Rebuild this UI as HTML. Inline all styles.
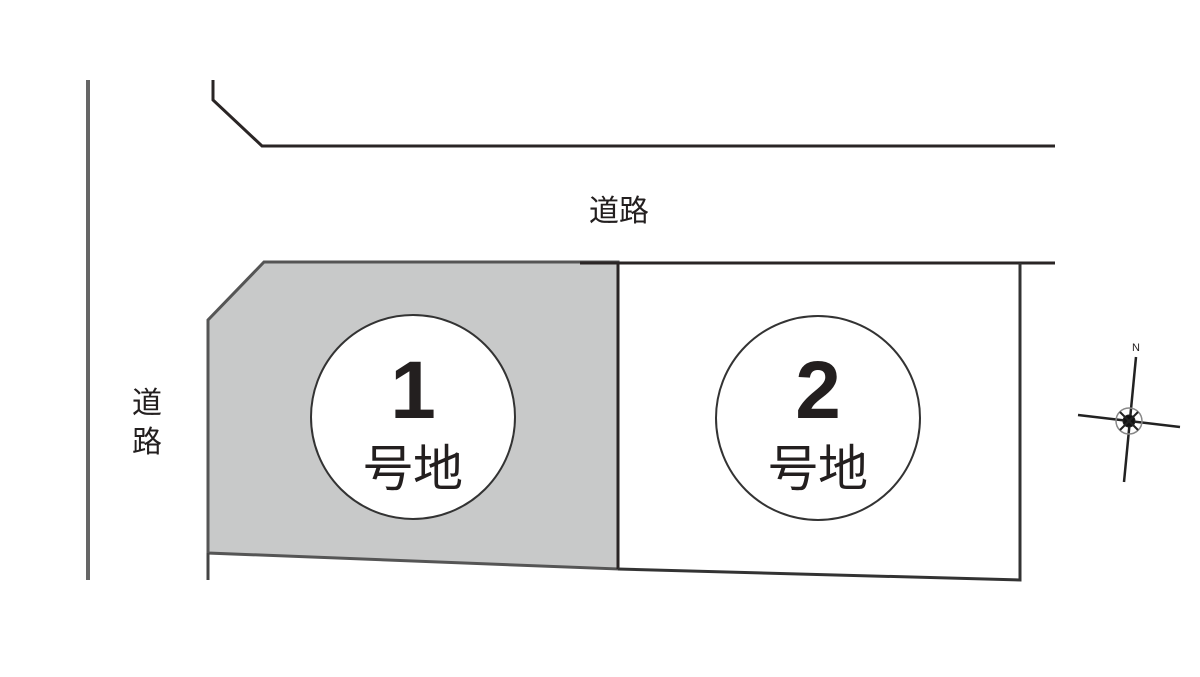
<!DOCTYPE html>
<html><head><meta charset="utf-8"><style>html,body{margin:0;padding:0;background:#fff;}</style></head>
<body>
<svg width="1200" height="677" viewBox="0 0 1200 677" xmlns="http://www.w3.org/2000/svg" style="display:block">
<g fill="none" stroke="#2a2525" stroke-width="3">
<line x1="88" y1="80" x2="88" y2="580" stroke="#666" stroke-width="4"/>
<polyline points="213,80 213,100 262,146 1055,146"/>
<polygon points="264,262 618,262 618,569 208,553 208,320" fill="#c8c9c9" stroke="#555"/>
<line x1="208" y1="553" x2="208" y2="580" stroke="#444"/>
<line x1="580" y1="263" x2="1055" y2="263"/>
<line x1="618" y1="262" x2="618" y2="569"/>
<polyline points="1020,263 1020,580 618,569" stroke="#333"/>
</g>
<g fill="#fff" stroke="#333" stroke-width="2">
<circle cx="413" cy="417" r="102"/>
<circle cx="818" cy="418" r="102"/>
</g>
<g font-family="Liberation Sans, Noto Sans CJK JP, sans-serif" fill="#231f1f" text-anchor="middle">
<text x="413" y="418" font-size="82" font-weight="bold">1</text>
<text x="413" y="486" font-size="50">号地</text>
<text x="818" y="418" font-size="82" font-weight="bold">2</text>
<text x="818" y="486" font-size="50">号地</text>
<text x="619" y="221" font-size="30">道路</text>
<text x="147" y="413" font-size="30">道</text>
<text x="147" y="452" font-size="30">路</text>
<text x="1136" y="351" font-size="11">N</text>
</g>
<g stroke="#222">
<line x1="1136" y1="357" x2="1124" y2="482" stroke-width="2.5"/>
<line x1="1078" y1="415" x2="1180" y2="427" stroke-width="2.5"/>
<circle cx="1129" cy="421" r="13" fill="none" stroke="#888" stroke-width="1.5"/>
<circle cx="1129" cy="421" r="6" fill="#111"/>
<line x1="1120" y1="412" x2="1138" y2="430" stroke-width="2"/>
<line x1="1138" y1="412" x2="1120" y2="430" stroke-width="2"/>
</g>
</svg>
</body></html>
